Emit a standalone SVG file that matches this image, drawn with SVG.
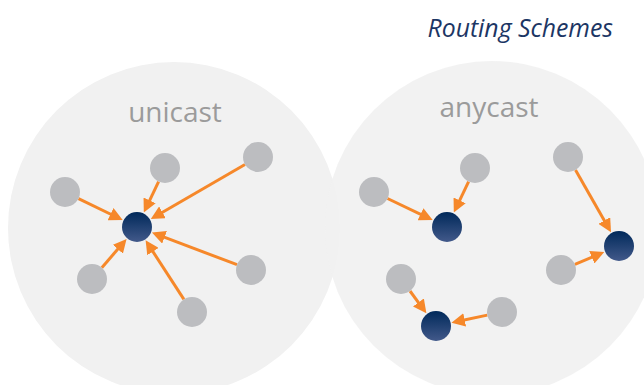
<svg xmlns="http://www.w3.org/2000/svg" width="644" height="385" viewBox="0 0 644 385">
  <style>
    .zone { fill: #f1f1f1; }
    .zone-label { font-family: "Open Sans", "Noto Sans", "Liberation Sans", sans-serif; font-size: 28px; fill: #9b9b9b; text-anchor: middle; }
    .title { font-family: "Open Sans", "Noto Sans", "Liberation Sans", sans-serif; font-style: italic; font-size: 24.8px; fill: #1c3664; text-anchor: end; }
    .host { fill: #bcbdc0; }
    .dest { fill: url(#destFill); }
    .link { stroke: #f6882a; stroke-width: 3; fill: none; marker-end: url(#head); }
  </style>
  <defs>
    <linearGradient id="destFill" x1="0" y1="0" x2="0" y2="1">
      <stop offset="0" stop-color="#00295a"/>
      <stop offset="1" stop-color="#42598a"/>
    </linearGradient>
    <marker id="head" viewBox="0 0 10 10" refX="4" refY="5" markerWidth="4.5" markerHeight="4.5" orient="auto">
      <path d="M0,0 L10,5 L0,10 z" fill="#f6882a"/>
    </marker>
  </defs>

  <rect width="644" height="385" fill="#ffffff"/>

  <!-- scheme areas -->
  <circle class="zone" cx="174" cy="228" r="166"/>
  <circle class="zone" cx="492" cy="228" r="167" opacity="0.92"/>

  <text class="title" x="613" y="37">Routing Schemes</text>
  <text class="zone-label" x="175" y="122">unicast</text>
  <text class="zone-label" x="489" y="117">anycast</text>

  <!-- connectors -->
  <g id="links">
    <line class="link" x1="78.5" y1="198.6" x2="115.4" y2="216.5"/>
    <line class="link" x1="158.6" y1="181.6" x2="147.3" y2="205.3"/>
    <line class="link" x1="245" y1="164.5" x2="157.8" y2="215"/>
    <line class="link" x1="237" y1="264.7" x2="159.5" y2="235.4"/>
    <line class="link" x1="183.9" y1="299.4" x2="150" y2="247.1"/>
    <line class="link" x1="101.8" y1="267.7" x2="121.3" y2="245.1"/>

    <line class="link" x1="387.5" y1="198.5" x2="425.4" y2="216.6"/>
    <line class="link" x1="468.6" y1="181.6" x2="457.3" y2="205.3"/>
    <line class="link" x1="575.5" y1="170" x2="607" y2="225.2"/>
    <line class="link" x1="574.9" y1="264.3" x2="596.8" y2="255.2"/>
    <line class="link" x1="410" y1="291" x2="421.6" y2="306.8"/>
    <line class="link" x1="487.3" y1="315.1" x2="459.4" y2="321"/>
  </g>

  <!-- unicast nodes -->
  <g id="u-dest"><circle class="dest" cx="137" cy="227" r="15"/></g>
  <g id="u-h1"><circle class="host" cx="65" cy="192" r="15"/></g>
  <g id="u-h2"><circle class="host" cx="165" cy="168" r="15"/></g>
  <g id="u-h3"><circle class="host" cx="258" cy="157" r="15"/></g>
  <g id="u-h4"><circle class="host" cx="251" cy="270" r="15"/></g>
  <g id="u-h5"><circle class="host" cx="192" cy="312" r="15"/></g>
  <g id="u-h6"><circle class="host" cx="92" cy="279" r="15"/></g>

  <!-- anycast nodes -->
  <g id="a-dest1"><circle class="dest" cx="447" cy="227" r="15"/></g>
  <g id="a-dest2"><circle class="dest" cx="619" cy="246" r="15"/></g>
  <g id="a-dest3"><circle class="dest" cx="436" cy="326" r="15"/></g>
  <g id="a-h1"><circle class="host" cx="374" cy="192" r="15"/></g>
  <g id="a-h2"><circle class="host" cx="475" cy="168" r="15"/></g>
  <g id="a-h3"><circle class="host" cx="568" cy="157" r="15"/></g>
  <g id="a-h4"><circle class="host" cx="561" cy="270" r="15"/></g>
  <g id="a-h5"><circle class="host" cx="401" cy="279" r="15"/></g>
  <g id="a-h6"><circle class="host" cx="502" cy="312" r="15"/></g>
</svg>
